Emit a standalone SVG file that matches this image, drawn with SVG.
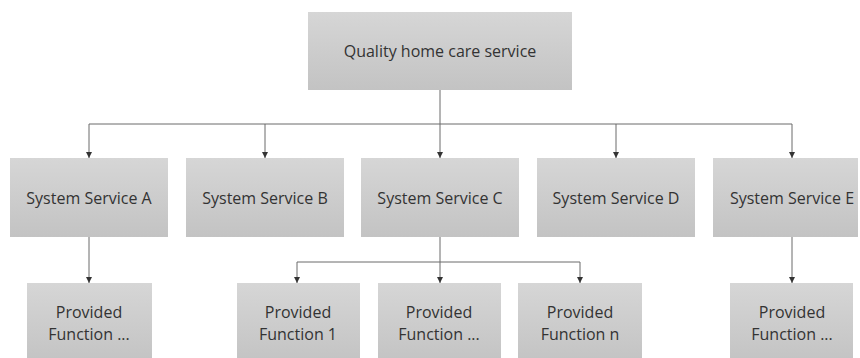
<svg xmlns="http://www.w3.org/2000/svg" width="860" height="358" viewBox="0 0 860 358">
  <style>
    .box { fill: url(#g); }
    .t { font-family: "Open Sans", "Liberation Sans", sans-serif; font-size: 16px; fill: #333333; text-anchor: middle; dominant-baseline: central; }
    .c { fill: none; stroke: #6a6a6a; stroke-width: 1; }
  </style>
  <defs>
    <linearGradient id="g" x1="0" y1="0" x2="0" y2="1">
      <stop offset="0" stop-color="#d6d6d6"/>
      <stop offset="1" stop-color="#c3c3c3"/>
    </linearGradient>
    <marker id="a" viewBox="0 0 8 8" refX="8" refY="4" markerWidth="6" markerHeight="6" markerUnits="userSpaceOnUse" orient="auto">
      <path d="M0,0 L8,4 L0,8 Z" fill="#333"/>
    </marker>
  </defs>
  <rect width="860" height="358" fill="#ffffff"/>

  <g id="connectors">
    <path class="c" d="M440,90 V124"/>
    <path class="c" d="M89,124 H792"/>
    <path class="c" d="M89,124 V158" marker-end="url(#a)"/>
    <path class="c" d="M265,124 V158" marker-end="url(#a)"/>
    <path class="c" d="M440,124 V158" marker-end="url(#a)"/>
    <path class="c" d="M616,124 V158" marker-end="url(#a)"/>
    <path class="c" d="M792,124 V158" marker-end="url(#a)"/>
    <path class="c" d="M89,237 V283" marker-end="url(#a)"/>
    <path class="c" d="M440,237 V283" marker-end="url(#a)"/>
    <path class="c" d="M297,262 H580"/>
    <path class="c" d="M297,262 V283" marker-end="url(#a)"/>
    <path class="c" d="M580,262 V283" marker-end="url(#a)"/>
    <path class="c" d="M792,237 V283" marker-end="url(#a)"/>
  </g>

  <g id="root">
    <rect class="box" x="308" y="12" width="264" height="78"/>
    <text class="t" x="440" y="51">Quality home care service</text>
  </g>

  <g id="svcA">
    <rect class="box" x="10" y="158" width="158" height="79"/>
    <text class="t" x="89" y="198">System Service A</text>
  </g>
  <g id="svcB">
    <rect class="box" x="186" y="158" width="158" height="79"/>
    <text class="t" x="265" y="198">System Service B</text>
  </g>
  <g id="svcC">
    <rect class="box" x="361" y="158" width="158" height="79"/>
    <text class="t" x="440" y="198">System Service C</text>
  </g>
  <g id="svcD">
    <rect class="box" x="537" y="158" width="158" height="79"/>
    <text class="t" x="616" y="198">System Service D</text>
  </g>
  <g id="svcE">
    <rect class="box" x="713" y="158" width="145" height="79"/>
    <text class="t" x="792" y="198">System Service E</text>
  </g>

  <g id="fnA">
    <rect class="box" x="27" y="283" width="125" height="80"/>
    <text class="t" x="89" y="312">Provided</text>
    <text class="t" x="89" y="334">Function ...</text>
  </g>
  <g id="fn1">
    <rect class="box" x="237" y="283" width="123" height="80"/>
    <text class="t" x="298" y="312">Provided</text>
    <text class="t" x="298" y="334">Function 1</text>
  </g>
  <g id="fnC">
    <rect class="box" x="378" y="283" width="123" height="80"/>
    <text class="t" x="439" y="312">Provided</text>
    <text class="t" x="439" y="334">Function ...</text>
  </g>
  <g id="fnN">
    <rect class="box" x="518" y="283" width="124" height="80"/>
    <text class="t" x="580" y="312">Provided</text>
    <text class="t" x="580" y="334">Function n</text>
  </g>
  <g id="fnE">
    <rect class="box" x="730" y="283" width="123" height="80"/>
    <text class="t" x="792" y="312">Provided</text>
    <text class="t" x="792" y="334">Function ...</text>
  </g>
</svg>
